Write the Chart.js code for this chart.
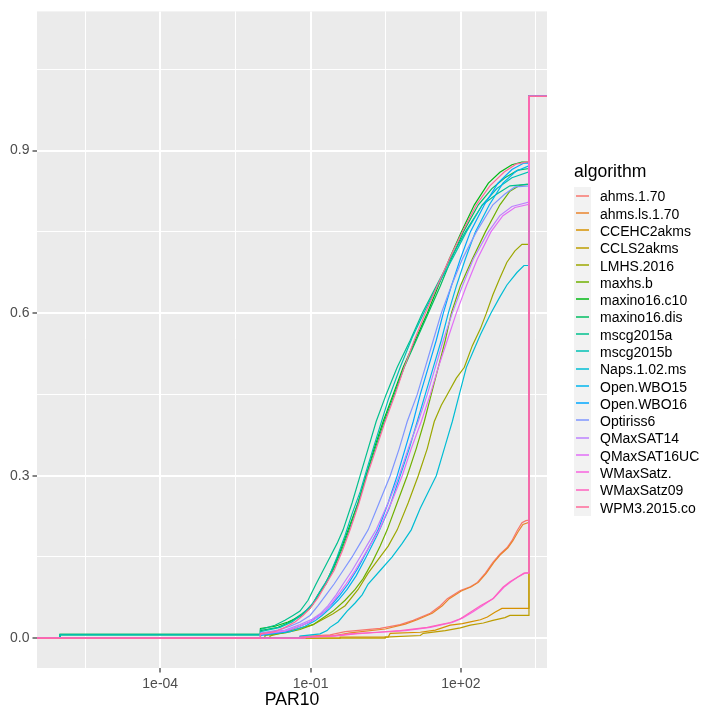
<!DOCTYPE html>
<html>
<head>
<meta charset="utf-8">
<script src="https://cdn.jsdelivr.net/npm/chart.js@4.4.1/dist/chart.umd.min.js"></script>
<style>
  body { margin: 0; background: #fff; }
  #wrap { position: relative; width: 720px; height: 720px; }
  #legend { position: absolute; left: 0; top: 0; font-family: "Liberation Sans", Arial, sans-serif; color: #000; }
  .lg-title { position: absolute; left: 574px; top: 160px; font-size: 17.6px; line-height: 22px; white-space: nowrap; }
  .lg-row { position: absolute; left: 574px; display: flex; align-items: center; }
  .lg-key { width: 17px; height: 100%; background: #f2f2f2; position: relative; }
  .lg-key span { position: absolute; left: 2px; width: 13px; height: 2px; opacity: 0.75; }
  .lg-label { margin-left: 9px; font-size: 14px; white-space: nowrap; }
</style>
</head>
<body>
<div id="wrap">
  <canvas id="graphicEcdf" width="720" height="720"></canvas>
  <div id="legend"><div class="lg-title">algorithm</div></div>
</div>
<script>
// Datos: cada punto es [log10(PAR10), fraccion resuelta]
const algorithms = [
  "ahms.1.70", "ahms.ls.1.70", "CCEHC2akms", "CCLS2akms", "LMHS.2016",
  "maxhs.b", "maxino16.c10", "maxino16.dis", "mscg2015a", "mscg2015b",
  "Naps.1.02.ms", "Open.WBO15", "Open.WBO16", "Optiriss6", "QMaxSAT14",
  "QMaxSAT16UC", "WMaxSatz.", "WMaxSatz09", "WPM3.2015.co"
];
const timeoutLog = 3.36;

const ahms170 = [[-1.21,0],[-1.21,0.003],[-0.61,0.006],[-0.31,0.012],[0.39,0.018],[0.79,0.025],[1.05,0.033],[1.39,0.046],[1.59,0.06],[1.73,0.073],[1.99,0.088],[2.19,0.095],[2.33,0.103],[2.49,0.12],[2.64,0.14],[2.78,0.155],[2.92,0.167],[3.02,0.18],[3.12,0.198],[3.22,0.213],[3.30,0.217],[3.36,0.218]];
const ahmsls170 = [[-1.11,0],[-1.11,0.002],[-0.51,0.005],[-0.21,0.01],[0.49,0.017],[0.89,0.026],[1.13,0.034],[1.43,0.046],[1.63,0.06],[1.77,0.073],[2.01,0.087],[2.21,0.095],[2.35,0.103],[2.51,0.12],[2.66,0.14],[2.80,0.155],[2.94,0.167],[3.04,0.18],[3.14,0.196],[3.24,0.21],[3.36,0.214]];
const ccehc2akms = [[-0.41,0],[-0.41,0.002],[0.55,0.002],[0.59,0.009],[1.19,0.011],[1.49,0.015],[1.79,0.024],[2.03,0.027],[2.19,0.03],[2.39,0.034],[2.53,0.039],[2.68,0.048],[2.82,0.055],[3.36,0.055]];
const ccls2akms = [[0.49,0],[0.49,0.002],[1.19,0.005],[1.25,0.009],[1.69,0.014],[1.99,0.019],[2.19,0.024],[2.45,0.028],[2.64,0.033],[2.88,0.038],[2.98,0.042],[3.36,0.042]];
const lmhs2016 = [[-1.81,0],[-1.81,0.004],[-1.55,0.01],[-1.35,0.015],[-0.95,0.025],[-0.55,0.045],[-0.31,0.06],[-0.05,0.09],[0.15,0.12],[0.39,0.15],[0.55,0.17],[0.73,0.2],[0.95,0.25],[1.15,0.3],[1.33,0.35],[1.47,0.4],[1.61,0.43],[1.73,0.45],[1.91,0.48],[2.07,0.5],[2.23,0.54],[2.39,0.571],[2.51,0.6],[2.64,0.634],[2.78,0.665],[2.92,0.694],[3.08,0.715],[3.22,0.727],[3.36,0.727]];
const maxhsb = [[-1.91,0],[-1.91,0.005],[-1.51,0.01],[-1.21,0.016],[-0.95,0.025],[-0.71,0.04],[-0.55,0.05],[-0.31,0.07],[-0.11,0.09],[0.05,0.11],[0.23,0.14],[0.39,0.17],[0.53,0.2],[0.73,0.25],[0.93,0.3],[1.11,0.35],[1.27,0.4],[1.41,0.45],[1.55,0.5],[1.69,0.55],[1.81,0.6],[1.99,0.65],[2.23,0.7],[2.49,0.75],[2.78,0.8],[2.98,0.825],[3.18,0.836],[3.36,0.838]];
const maxino16c10 = [[-6.0,0],[-6.0,0.007],[-2.0,0.007],[-2.0,0.018],[-1.71,0.022],[-1.45,0.03],[-1.21,0.04],[-1.01,0.055],[-0.85,0.08],[-0.71,0.1],[-0.55,0.13],[-0.41,0.16],[-0.25,0.2],[-0.05,0.25],[0.11,0.3],[0.27,0.35],[0.45,0.4],[0.65,0.45],[0.85,0.5],[1.09,0.55],[1.33,0.6],[1.55,0.65],[1.77,0.7],[2.01,0.75],[2.27,0.8],[2.55,0.84],[2.78,0.86],[3.02,0.874],[3.22,0.879],[3.36,0.879]];
const maxino16dis = [[-6.0,0],[-6.0,0.006],[-2.0,0.006],[-2.0,0.014],[-1.65,0.02],[-1.41,0.03],[-1.17,0.045],[-0.97,0.06],[-0.81,0.085],[-0.69,0.1],[-0.53,0.13],[-0.37,0.165],[-0.23,0.2],[-0.05,0.25],[0.11,0.3],[0.29,0.35],[0.47,0.4],[0.67,0.45],[0.87,0.5],[1.11,0.55],[1.35,0.6],[1.59,0.65],[1.81,0.7],[2.05,0.75],[2.35,0.8],[2.62,0.83],[2.88,0.85],[3.14,0.864],[3.36,0.867]];
const mscg2015a = [[-6.0,0],[-6.0,0.007],[-2.0,0.007],[-2.0,0.016],[-1.71,0.024],[-1.51,0.033],[-1.35,0.042],[-1.21,0.05],[-1.05,0.07],[-0.89,0.1],[-0.75,0.125],[-0.61,0.15],[-0.47,0.175],[-0.35,0.2],[-0.17,0.25],[-0.01,0.3],[0.15,0.35],[0.31,0.4],[0.51,0.45],[0.73,0.5],[0.99,0.55],[1.23,0.6],[1.51,0.65],[1.79,0.7],[2.09,0.75],[2.43,0.8],[2.72,0.82],[2.98,0.835],[3.36,0.838]];
const mscg2015b = [[-6.0,0],[-6.0,0.006],[-2.0,0.006],[-2.0,0.012],[-1.61,0.02],[-1.37,0.03],[-1.15,0.045],[-0.95,0.065],[-0.79,0.09],[-0.65,0.11],[-0.47,0.15],[-0.31,0.19],[-0.17,0.23],[-0.01,0.27],[0.15,0.32],[0.35,0.38],[0.55,0.44],[0.79,0.5],[1.03,0.555],[1.31,0.61],[1.59,0.66],[1.83,0.7],[2.11,0.75],[2.43,0.8],[2.72,0.83],[3.02,0.85],[3.36,0.861]];
const naps102ms = [[-1.21,0],[-1.21,0.004],[-0.81,0.008],[-0.67,0.014],[-0.61,0.02],[-0.45,0.03],[-0.27,0.05],[-0.11,0.065],[0.03,0.08],[0.15,0.1],[0.39,0.125],[0.63,0.15],[0.83,0.175],[1.01,0.2],[1.19,0.24],[1.35,0.27],[1.51,0.3],[1.67,0.35],[1.83,0.4],[1.97,0.45],[2.11,0.5],[2.25,0.53],[2.39,0.56],[2.60,0.6],[2.78,0.63],[2.92,0.652],[3.12,0.675],[3.26,0.688],[3.36,0.688]];
const openWbo15 = [[-2.0,0],[-2.0,0.005],[-1.41,0.012],[-1.11,0.022],[-0.91,0.032],[-0.77,0.042],[-0.61,0.055],[-0.45,0.07],[-0.27,0.09],[-0.09,0.115],[0.11,0.15],[0.33,0.19],[0.57,0.24],[0.79,0.3],[0.97,0.35],[1.13,0.4],[1.29,0.45],[1.45,0.5],[1.61,0.55],[1.75,0.6],[1.91,0.65],[2.09,0.7],[2.29,0.75],[2.57,0.8],[2.84,0.84],[3.10,0.862],[3.36,0.872]];
const openWbo16 = [[-2.0,0],[-2.0,0.006],[-1.51,0.012],[-1.21,0.022],[-1.01,0.03],[-0.85,0.04],[-0.71,0.05],[-0.55,0.065],[-0.41,0.08],[-0.25,0.1],[-0.05,0.13],[0.15,0.165],[0.35,0.2],[0.55,0.25],[0.73,0.3],[0.89,0.35],[1.05,0.4],[1.19,0.45],[1.35,0.5],[1.51,0.55],[1.65,0.6],[1.81,0.65],[1.99,0.7],[2.19,0.75],[2.47,0.8],[2.74,0.84],[3.02,0.865],[3.26,0.877],[3.36,0.877]];
const optiriss6 = [[-2.0,0],[-2.0,0.009],[-1.65,0.015],[-1.41,0.022],[-1.21,0.03],[-1.01,0.042],[-0.85,0.06],[-0.69,0.08],[-0.53,0.1],[-0.35,0.125],[-0.17,0.15],[-0.01,0.175],[0.15,0.2],[0.37,0.25],[0.59,0.3],[0.77,0.35],[0.93,0.4],[1.13,0.45],[1.29,0.5],[1.45,0.55],[1.61,0.6],[1.81,0.65],[2.03,0.7],[2.31,0.75],[2.64,0.8],[2.88,0.82],[3.08,0.833],[3.36,0.835]];
const qmaxsat14 = [[-2.0,0],[-2.0,0.009],[-1.51,0.015],[-1.21,0.025],[-0.97,0.035],[-0.81,0.045],[-0.65,0.06],[-0.49,0.08],[-0.35,0.1],[-0.17,0.125],[-0.01,0.15],[0.15,0.175],[0.31,0.2],[0.55,0.25],[0.77,0.3],[0.95,0.35],[1.15,0.4],[1.33,0.45],[1.49,0.5],[1.65,0.55],[1.83,0.6],[2.03,0.65],[2.25,0.7],[2.55,0.75],[2.78,0.78],[3.02,0.797],[3.36,0.805]];
const qmaxsat16uc = [[-2.0,0],[-2.0,0.007],[-1.51,0.013],[-1.21,0.022],[-0.97,0.032],[-0.77,0.045],[-0.61,0.06],[-0.45,0.08],[-0.29,0.1],[-0.11,0.125],[0.05,0.15],[0.21,0.175],[0.37,0.2],[0.61,0.25],[0.83,0.3],[1.01,0.35],[1.21,0.4],[1.39,0.45],[1.55,0.5],[1.73,0.55],[1.91,0.6],[2.11,0.65],[2.33,0.7],[2.60,0.75],[2.84,0.78],[3.08,0.795],[3.36,0.801]];
const wmaxsatz = [[-1.11,0],[-1.11,0.002],[-0.51,0.004],[-0.11,0.008],[0.39,0.011],[0.89,0.014],[1.39,0.02],[1.63,0.025],[1.83,0.029],[2.03,0.037],[2.23,0.048],[2.43,0.06],[2.66,0.074],[2.86,0.094],[3.00,0.104],[3.14,0.113],[3.28,0.12],[3.36,0.12]];
const wmaxsatz09 = [[-1.21,0],[-1.21,0.002],[-0.61,0.004],[-0.21,0.008],[0.33,0.011],[0.79,0.014],[1.33,0.02],[1.59,0.025],[1.79,0.029],[1.99,0.036],[2.19,0.048],[2.39,0.06],[2.64,0.073],[2.84,0.094],[2.98,0.104],[3.12,0.112],[3.26,0.12],[3.36,0.121]];
const wpm32015co = [[-2.0,0],[-2.0,0.008],[-1.71,0.012],[-1.51,0.02],[-1.31,0.03],[-1.15,0.042],[-1.01,0.055],[-0.85,0.075],[-0.69,0.1],[-0.53,0.125],[-0.37,0.16],[-0.21,0.2],[-0.03,0.25],[0.13,0.3],[0.31,0.35],[0.49,0.4],[0.69,0.45],[0.87,0.5],[1.07,0.55],[1.29,0.6],[1.53,0.65],[1.77,0.7],[2.03,0.75],[2.31,0.8],[2.58,0.835],[2.86,0.86],[3.10,0.875],[3.36,0.88]];

const series = [
  ahms170, ahmsls170, ccehc2akms, ccls2akms, lmhs2016,
  maxhsb, maxino16c10, maxino16dis, mscg2015a, mscg2015b,
  naps102ms, openWbo15, openWbo16, optiriss6, qmaxsat14,
  qmaxsat16uc, wmaxsatz, wmaxsatz09, wpm32015co
];

// Ejes
const xMajorLog = [-4, -1, 2];
const xMajorLabels = ["1e-04", "1e-01", "1e+02"];
const xMinorLog = [-5.5, -2.5, 0.5, 3.5];
const yMajor = [0, 0.3, 0.6, 0.9];
const yMinor = [0.15, 0.45, 0.75, 1.05];

// Paleta de ggplot (hue_pal): hcl con c=100, l=65
function hcl(h, c, l) {
  const hr = h * Math.PI / 180;
  const U = c * Math.cos(hr), V = c * Math.sin(hr);
  const Y = 100 * Math.pow((l + 16) / 116, 3);
  const u = U / (13 * l) + 0.1978398;
  const v = V / (13 * l) + 0.4683363;
  const X = 9 * Y * u / (4 * v);
  const Z = -X / 3 - 5 * Y + 3 * Y / v;
  const g = (t) => {
    t = t / 100;
    t = t > 0.00304 ? 1.055 * Math.pow(t, 1 / 2.4) - 0.055 : 12.92 * t;
    return Math.round(Math.min(1, Math.max(0, t)) * 255);
  };
  const r = g(3.240479 * X - 1.537150 * Y - 0.498535 * Z);
  const gr = g(-0.969256 * X + 1.875992 * Y + 0.041556 * Z);
  const b = g(0.055648 * X - 0.204043 * Y + 1.057311 * Z);
  return "#" + [r, gr, b].map(n => n.toString(16).padStart(2, "0")).join("");
}
const colors = algorithms.map((_, i) => hcl(15 + i * 360 / algorithms.length, 100, 65));

const isNear = (a, b) => Math.abs(a - b) < 1e-6;

// Fondo gris del panel
const panelBackground = {
  id: "panelBackground",
  beforeDraw(chart) {
    const { ctx, chartArea } = chart;
    ctx.save();
    ctx.fillStyle = "#ebebeb";
    ctx.fillRect(chartArea.left, chartArea.top, chartArea.right - chartArea.left, chartArea.bottom - chartArea.top);
    ctx.restore();
  }
};

Chart.defaults.font.family = '"Liberation Sans", Arial, sans-serif';

function getGraphicEcdf() {
  const datasets = series.map((pts, i) => {
    const last = pts[pts.length - 1];
    const full = [[-7, 0], ...pts, [timeoutLog, last[1]], [timeoutLog, 1], [4, 1]];
    return {
      label: algorithms[i],
      data: full.map(p => ({ x: Math.pow(10, p[0]), y: p[1] })),
      borderColor: colors[i],
      backgroundColor: colors[i],
      borderWidth: 1.2,
      pointRadius: 0,
      tension: 0,
      fill: false,
      order: series.length - i
    };
  });

  const chrt = document.getElementById("graphicEcdf").getContext("2d");
  new Chart(chrt, {
    type: "line",
    data: { datasets },
    plugins: [panelBackground],
    options: {
      responsive: false,
      animation: false,
      devicePixelRatio: 1,
      layout: { padding: { left: 0, right: 173, top: 8, bottom: 0 } },
      plugins: {
        legend: { display: false },
        tooltip: { enabled: false }
      },
      scales: {
        x: {
          type: "logarithmic",
          min: Math.pow(10, -6.46),
          max: Math.pow(10, 3.72),
          afterBuildTicks: (scale) => {
            scale.ticks = [...xMinorLog, ...xMajorLog].sort((a, b) => a - b).map(v => ({ value: Math.pow(10, v) }));
          },
          afterFit: (scale) => { scale.height = 52; },
          border: { display: false },
          grid: {
            color: "#ffffff",
            lineWidth: (ctx) => (ctx.tick && xMajorLog.some(m => isNear(Math.log10(ctx.tick.value), m)) ? 2 : 1),
            tickColor: (ctx) => (ctx.tick && xMajorLog.some(m => isNear(Math.log10(ctx.tick.value), m)) ? "#333333" : "rgba(0,0,0,0)"),
            tickLength: 4.5,
            tickWidth: 1.2
          },
          ticks: {
            autoSkip: false,
            maxRotation: 0,
            padding: 3,
            color: "#4d4d4d",
            font: { size: 14 },
            callback: (value) => {
              const k = xMajorLog.findIndex(m => isNear(Math.log10(value), m));
              return k >= 0 ? xMajorLabels[k] : "";
            }
          },
          title: {
            display: true,
            text: "PAR10",
            color: "#000000",
            font: { size: 17.6 },
            padding: { top: 0, bottom: 9 }
          }
        },
        y: {
          type: "linear",
          min: -0.055,
          max: 1.157,
          afterBuildTicks: (scale) => {
            scale.ticks = [...yMajor, ...yMinor].sort((a, b) => a - b).map(v => ({ value: v }));
          },
          afterFit: (scale) => { scale.width = 37; },
          border: { display: false },
          grid: {
            color: "#ffffff",
            lineWidth: (ctx) => (ctx.tick && yMajor.some(m => isNear(ctx.tick.value, m)) ? 2 : 1),
            tickColor: (ctx) => (ctx.tick && yMajor.some(m => isNear(ctx.tick.value, m)) ? "#333333" : "rgba(0,0,0,0)"),
            tickLength: 4.5,
            tickWidth: 1.2
          },
          ticks: {
            autoSkip: false,
            padding: 3,
            color: "#4d4d4d",
            font: { size: 14 },
            callback: (value) => (yMajor.some(m => isNear(value, m)) ? value.toFixed(1) : "")
          }
        }
      }
    }
  });
}

getGraphicEcdf();

// Leyenda al estilo ggplot
const legend = document.getElementById("legend");
algorithms.forEach((name, i) => {
  const top = Math.round(187.35 + i * 17.29);
  const next = Math.round(187.35 + (i + 1) * 17.29);
  const h = next - top;
  const row = document.createElement("div");
  row.className = "lg-row";
  row.style.top = top + "px";
  row.style.height = h + "px";
  row.innerHTML = '<div class="lg-key"><span style="top:' + Math.floor(h / 2 - 1) + 'px;background:' + colors[i] + '"></span></div><div class="lg-label">' + name + "</div>";
  legend.appendChild(row);
});
</script>
</body>
</html>
